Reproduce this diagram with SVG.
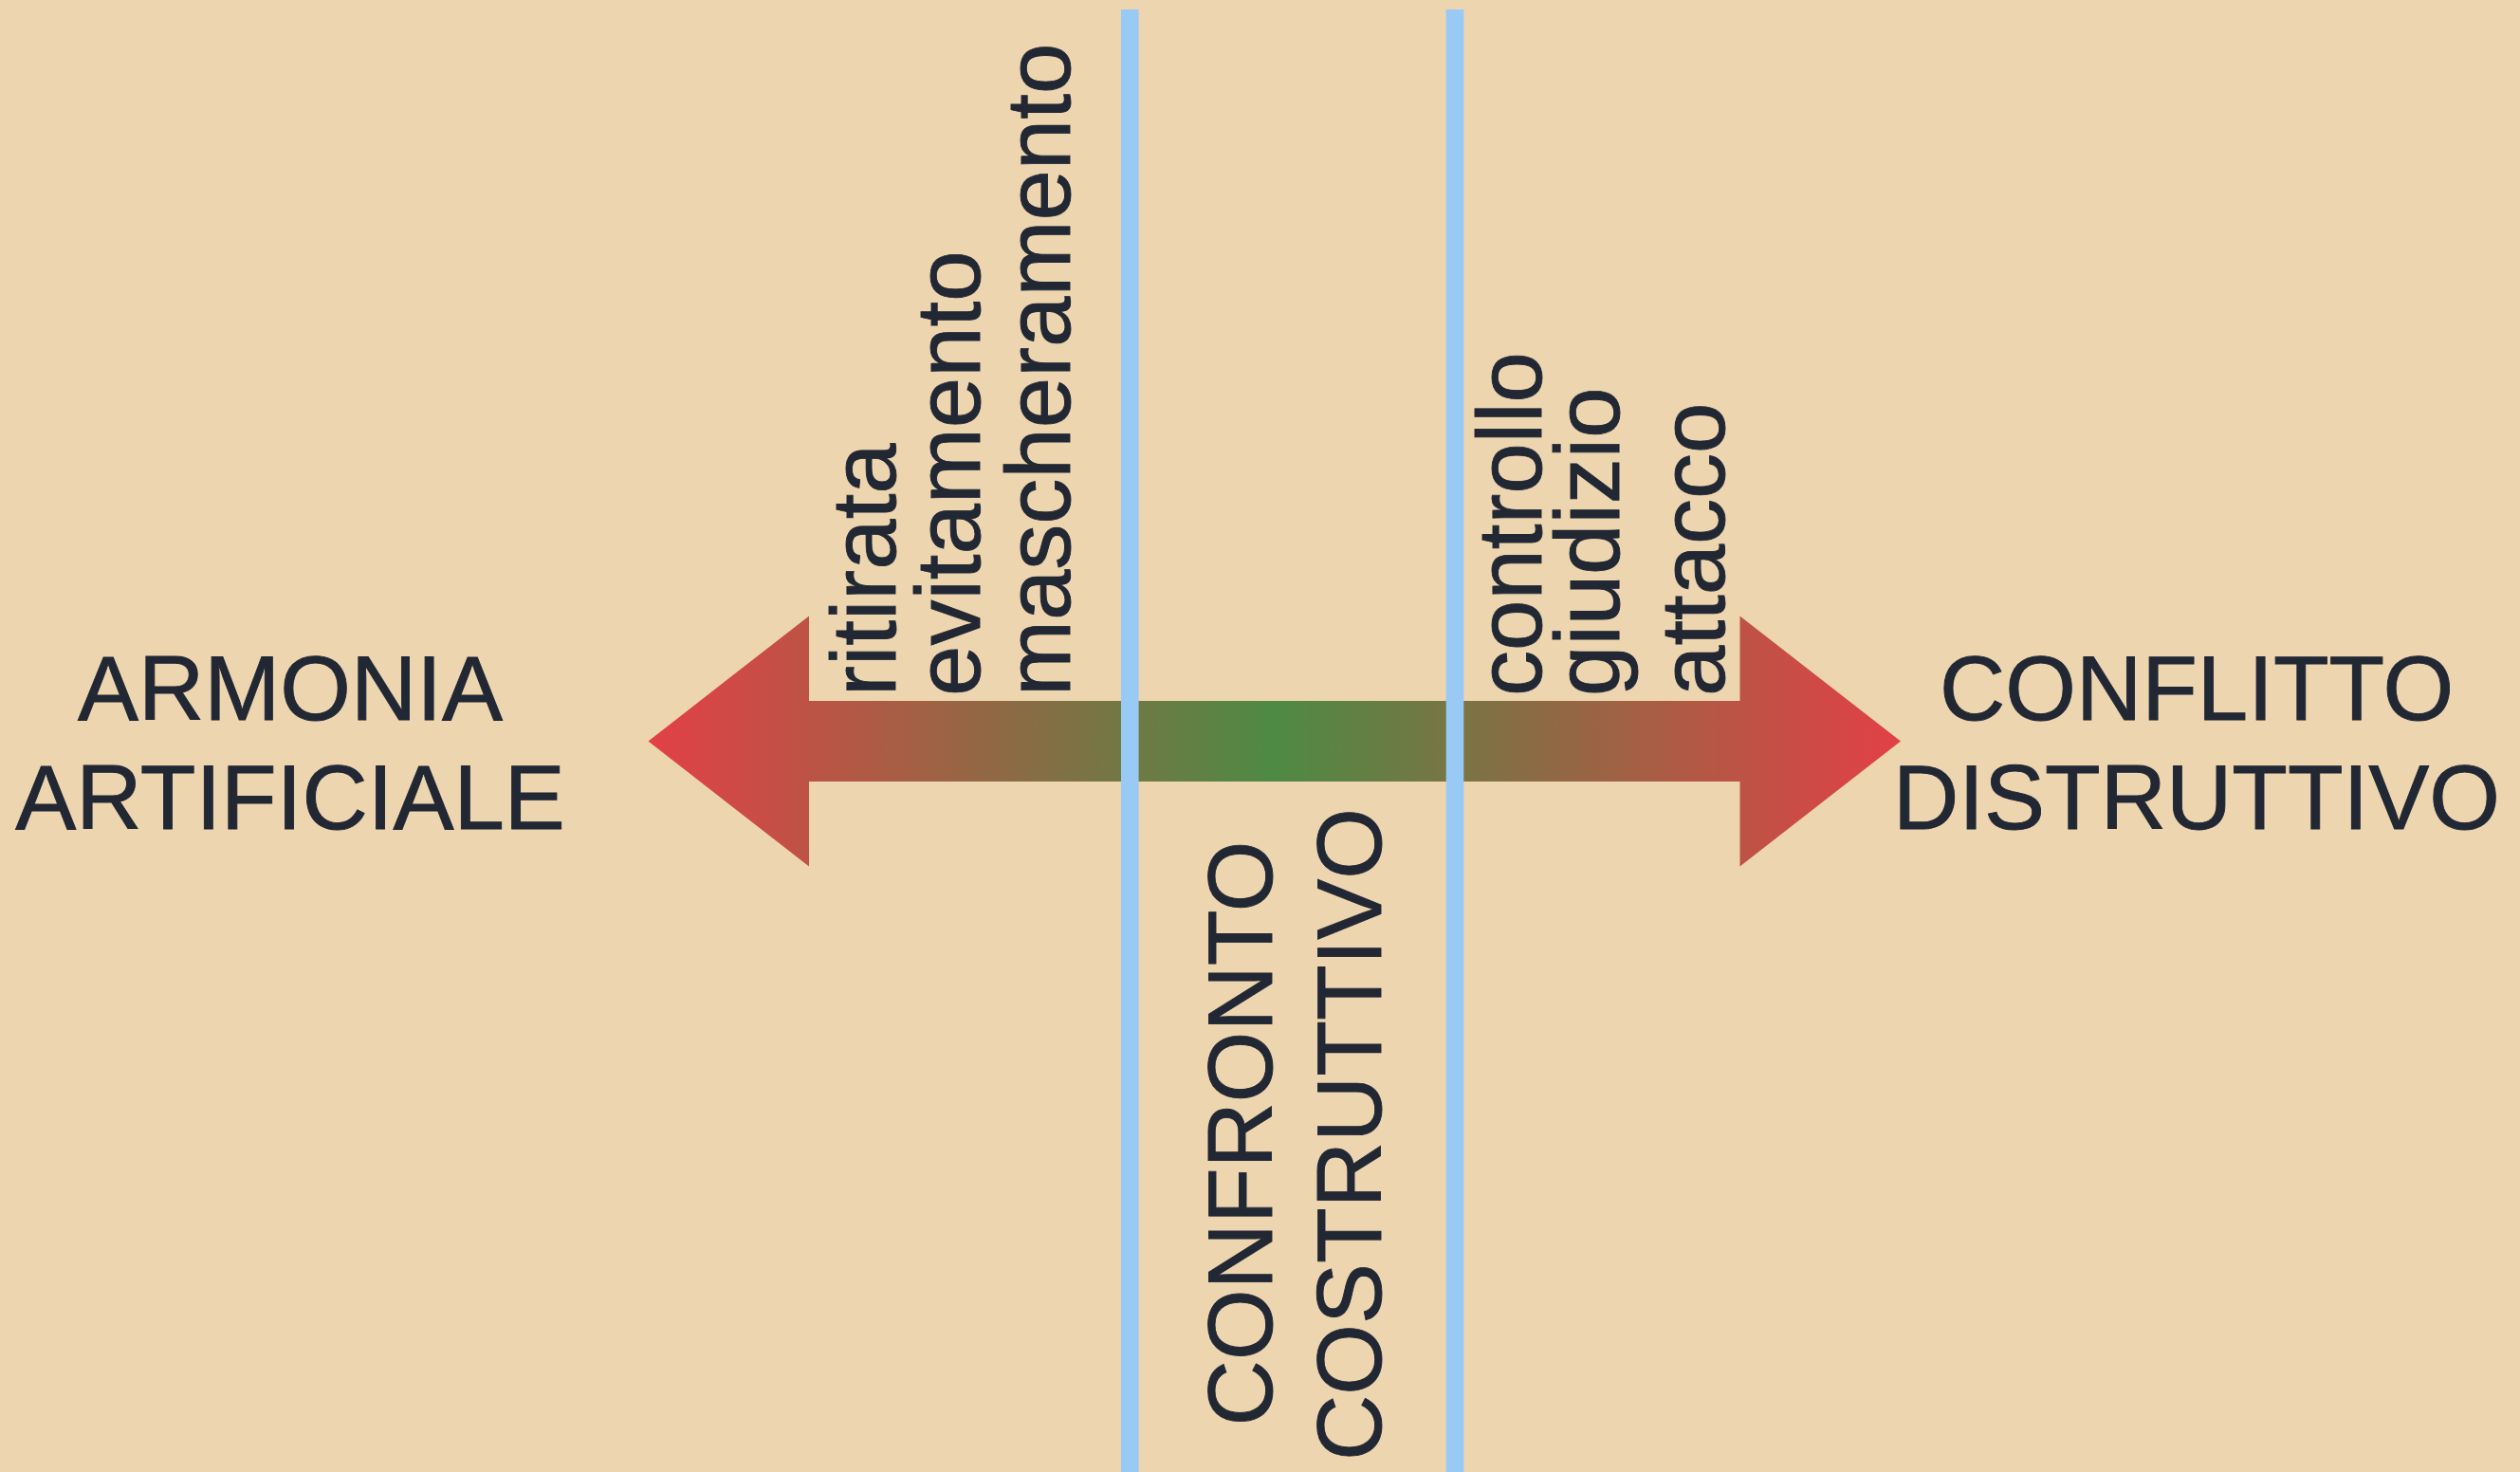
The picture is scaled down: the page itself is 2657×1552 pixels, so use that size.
<svg xmlns="http://www.w3.org/2000/svg" width="2657" height="1552" viewBox="0 0 2657 1552">
  <style>
    .lbl { font-family: "Liberation Sans", Arial, Helvetica, sans-serif; font-size: 96px; fill: #212733; stroke: #212733; stroke-width: 0.9px; }
    .mid { text-anchor: middle; }
    .divider { fill: #99C9F5; }
  </style>
  <defs>
    <linearGradient id="grad" gradientUnits="userSpaceOnUse" x1="683.5" y1="0" x2="2004" y2="0">
      <stop offset="0" stop-color="#E34046"/>
      <stop offset="0.5" stop-color="#4E8A43"/>
      <stop offset="1" stop-color="#E34046"/>
    </linearGradient>
  </defs>
  <rect id="background" x="0" y="0" width="2657" height="1552" fill="#EDD5B0"/>

  <g id="connectors">
    <polygon id="double-arrow" fill="url(#grad)" points="683.5,781.5 853,649.5 853,739 1834.5,739 1834.5,649.5 2004,781.5 1834.5,913.5 1834.5,824 853,824 853,913.5"/>
    <rect id="divider-left" class="divider" x="1182" y="10" width="18.6" height="1542"/>
    <rect id="divider-right" class="divider" x="1524.7" y="10" width="18.6" height="1542"/>
  </g>

  <g id="node-armonia">
    <text class="lbl mid" x="306" y="759">ARMONIA</text>
    <text class="lbl mid" x="306" y="874">ARTIFICIALE</text>
  </g>

  <g id="node-conflitto">
    <text class="lbl mid" x="2316" y="759">CONFLITTO</text>
    <text class="lbl mid" x="2316" y="874">DISTRUTTIVO</text>
  </g>

  <g id="node-confronto">
    <text class="lbl mid" transform="translate(1341,1195) rotate(-90)">CONFRONTO</text>
    <text class="lbl mid" transform="translate(1456,1196) rotate(-90)">COSTRUTTIVO</text>
  </g>

  <g id="node-left-behaviours">
    <text class="lbl" transform="translate(944,734) rotate(-90)">ritirata</text>
    <text class="lbl" transform="translate(1033,734) rotate(-90)">evitamento</text>
    <text class="lbl" transform="translate(1128,734) rotate(-90)">mascheramento</text>
  </g>

  <g id="node-right-behaviours">
    <text class="lbl" transform="translate(1625,734) rotate(-90)">controllo</text>
    <text class="lbl" transform="translate(1707,734) rotate(-90)">giudizio</text>
    <text class="lbl" transform="translate(1818,734) rotate(-90)">attacco</text>
  </g>
</svg>
